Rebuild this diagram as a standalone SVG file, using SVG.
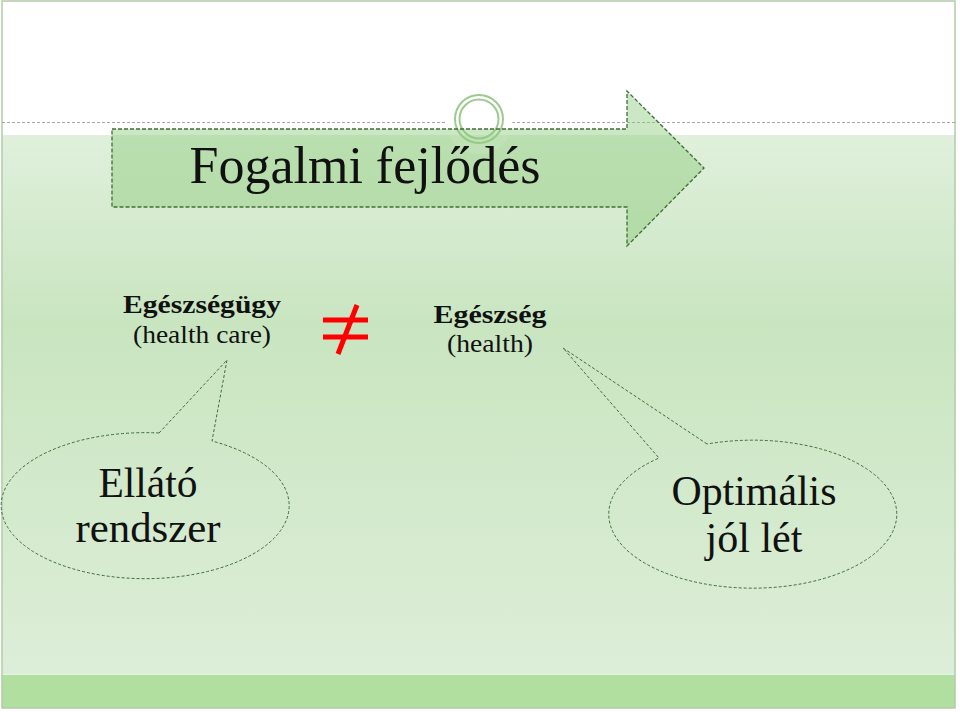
<svg xmlns="http://www.w3.org/2000/svg" width="960" height="712" viewBox="0 0 960 712">
  <defs>
    <linearGradient id="bg" x1="0" y1="0" x2="0" y2="1">
      <stop offset="0" stop-color="#e0f0dc"/>
      <stop offset="0.35" stop-color="#c9e5c0"/>
      <stop offset="1" stop-color="#ddeed8"/>
    </linearGradient>
    <style>
      text { font-family: 'Liberation Serif', 'DejaVu Serif', serif; fill: #111111; }
      .callout { fill: none; stroke: #3f6d38; stroke-width: 1; stroke-dasharray: 3 2; }
      .guide { stroke: #a8a8a0; stroke-width: 1; stroke-dasharray: 3 2; fill: none; }
    </style>
  </defs>

  <!-- background -->
  <rect x="0" y="0" width="960" height="712" fill="#ffffff"/>
  <rect x="2" y="135" width="953" height="540" fill="url(#bg)"/>
  <rect x="2" y="675" width="953" height="33" fill="#b1df9f"/>
  <line x1="2" y1="674.5" x2="955" y2="674.5" stroke="#e6f3e2" stroke-width="1"/>
  <rect x="2" y="1" width="953" height="707" fill="none" stroke="#b3cbaa" stroke-width="1.5"/>

  <!-- guide line and ornament -->
  <line class="guide" x1="2" y1="122.5" x2="445" y2="122.5"/>
  <line class="guide" x1="512" y1="122.5" x2="955" y2="122.5"/>
  <circle cx="479" cy="120" r="34" fill="#ffffff" opacity="0.35"/>
  <circle cx="479" cy="119" r="24" fill="none" stroke="#9dca8e" stroke-width="2"/>
  <circle cx="479" cy="119" r="19.5" fill="none" stroke="#9dca8e" stroke-width="2"/>

  <!-- title arrow -->
  <g id="title-arrow">
    <path d="M112,129 L627,129 L627,91 L704,168 L627,246 L627,207 L112,207 Z" fill="#8cc97a" fill-opacity="0.45" stroke="#3f6d38" stroke-width="1.3" stroke-dasharray="4 2"/>
    <text x="365" y="183" font-family="Liberation Serif, DejaVu Serif, serif" font-size="52" text-anchor="middle">Fogalmi fejlődés</text>
  </g>

  <!-- health care -->
  <g id="node-healthcare">
    <text x="202" y="313" font-family="Liberation Serif, DejaVu Serif, serif" font-size="26" font-weight="bold" text-anchor="middle" textLength="158" lengthAdjust="spacingAndGlyphs">Egészségügy</text>
    <text x="202" y="343" font-family="Liberation Serif, DejaVu Serif, serif" font-size="26" text-anchor="middle" textLength="138" lengthAdjust="spacingAndGlyphs">(health care)</text>
  </g>

  <!-- not equal -->
  <g id="node-neq">
    <line x1="323" y1="320" x2="368" y2="320" stroke="#ff0000" stroke-width="5"/>
    <line x1="323" y1="337" x2="368" y2="337" stroke="#ff0000" stroke-width="5"/>
    <line x1="357" y1="305" x2="338" y2="354" stroke="#ff0000" stroke-width="5"/>
  </g>

  <!-- health -->
  <g id="node-health">
    <text x="490" y="323" font-family="Liberation Serif, DejaVu Serif, serif" font-size="26" font-weight="bold" text-anchor="middle" textLength="113" lengthAdjust="spacingAndGlyphs">Egészség</text>
    <text x="490" y="352" font-family="Liberation Serif, DejaVu Serif, serif" font-size="26" text-anchor="middle" textLength="86" lengthAdjust="spacingAndGlyphs">(health)</text>
  </g>

  <!-- callouts -->
  <g id="connectors">
    <path class="callout" d="M159,433 L227,360 L212,441 A144,73 0 1,1 159,433 Z"/>
    <path class="callout" d="M707,444 L563,348 L659,458 A144,74 0 1,0 707,444 Z"/>
  </g>

  <g id="node-ellato">
    <text x="148" y="497" font-family="Liberation Serif, DejaVu Serif, serif" font-size="42" text-anchor="middle" textLength="99" lengthAdjust="spacingAndGlyphs">Ellátó</text>
    <text x="148" y="542" font-family="Liberation Serif, DejaVu Serif, serif" font-size="42" text-anchor="middle" textLength="145" lengthAdjust="spacingAndGlyphs">rendszer</text>
  </g>

  <g id="node-optimalis">
    <text x="754" y="505" font-family="Liberation Serif, DejaVu Serif, serif" font-size="42" text-anchor="middle" textLength="165" lengthAdjust="spacingAndGlyphs">Optimális</text>
    <text x="754" y="552" font-family="Liberation Serif, DejaVu Serif, serif" font-size="42" text-anchor="middle" textLength="97" lengthAdjust="spacingAndGlyphs">jól lét</text>
  </g>
</svg>
